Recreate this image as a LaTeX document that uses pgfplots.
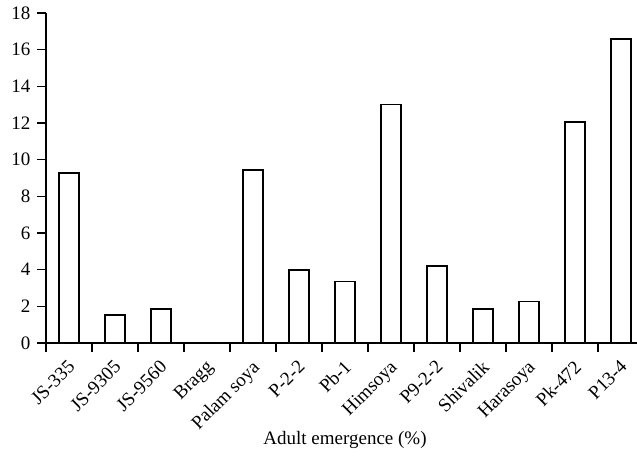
\documentclass[border=0pt]{standalone}
\usepackage{pgfplots}
\pgfplotsset{compat=1.18}
\usepackage{fontspec}
\setmainfont{Liberation Serif}
\usetikzlibrary{calc}
\newcommand\chartfont{\fontsize{19}{23}\selectfont}
\begin{document}
\chartfont
\begin{tikzpicture}
  \begin{axis}[
    scale only axis, width=591pt, height=330pt,
    axis lines=left, axis line style={-, line width=1.6pt},
    xmin=-0.5, xmax=12.348, ymin=0, ymax=18,
    ytick={0,2,...,18},
    xtick={-0.5,0.5,...,11.5}, xticklabels={},
    extra x ticks={0,...,12},
    extra x tick labels={JS-335,JS-9305,JS-9560,Bragg,Palam soya,P-2-2,Pb-1,Himsoya,P9-2-2,Shivalik,Harasoya,Pk-472,P13-4},
    extra x tick style={major tick length=0pt,
      xticklabel style={font=\chartfont, anchor=north east, inner sep=0pt, xshift=-2pt, yshift=-16pt, rotate=45}},
    tick align=outside, major tick length=9pt,
    tick style={line width=1.6pt, black},
    /pgf/number format/assume math mode=true,
    yticklabel style={font=\chartfont},
    xlabel={Adult emergence (\%)},
    xlabel style={font=\chartfont, at={(rel axis cs:0.5,0)}, anchor=base, xshift=3.5pt, yshift=-101pt},
    ybar, bar width=19.5pt,
  ]
  \addplot[draw=black, fill=white, line width=1.6pt] coordinates {
    (0,9.27) (1,1.53) (2,1.87) (3,0) (4,9.45) (5,3.98) (6,3.35)
    (7,13.02) (8,4.2) (9,1.85) (10,2.27) (11,12.07) (12,16.57)};
  \end{axis}
  \pgfresetboundingbox
  \path[use as bounding box] ($(current axis.south west)+(-46pt,-113pt)$) rectangle ($(current axis.south west)+(591pt,343pt)$);
\end{tikzpicture}
\end{document}
